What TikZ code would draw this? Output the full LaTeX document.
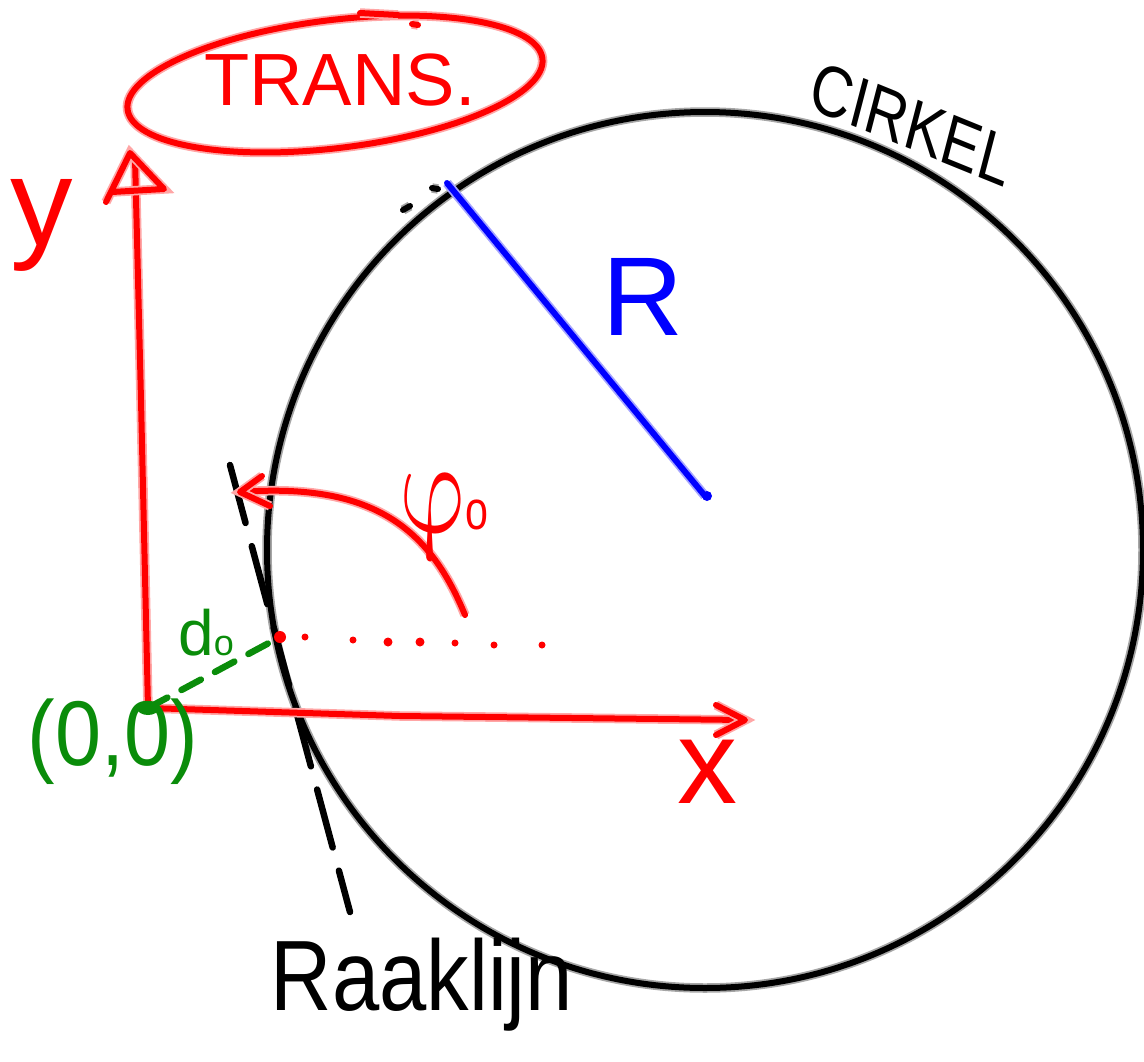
\documentclass[tikz,border=0pt]{standalone}
\usepackage{fontspec}
\usepackage{unicode-math}
\setmainfont{Liberation Sans}
\setmathfont{Latin Modern Math}
\definecolor{penred}{RGB}{255,0,0}
\definecolor{penblue}{RGB}{0,0,255}
\definecolor{pengreen}{RGB}{10,140,10}
\tikzset{
  pen/.style={draw=#1, line width=6pt, line cap=round, line join=round,
    preaction={draw=#1!35, line width=9.5pt}},
  dpen/.style={draw=#1, line width=6.5pt, line cap=round, line join=round},
  lbl/.style={inner sep=0pt, anchor=center},
}
\begin{document}
\begin{tikzpicture}[x=1pt,y=-1pt]
\useasboundingbox (0,0) rectangle (1144,1061);
% key points
\coordinate (O) at (148,708);
\coordinate (ytop) at (135,158);
\coordinate (xend) at (745,720);
\coordinate (C) at (705,550);
\coordinate (Cmark) at (705,496);
\coordinate (Rend) at (447,183);
\coordinate (P) at (280,637);
% circle
\draw[pen=black] (C) circle[radius=438];
\draw[pen=black] (403,210) -- (410,206) (432,188) -- (438,189);
% radius
\draw[pen=penblue] (Cmark) -- (Rend);
\fill[penblue] (Cmark)++(2,0) circle[radius=5];
\node[lbl,text=penblue,font=\fontsize{112}{112}\selectfont] (Rl) at (643,297) {R};
% tangent line
\coordinate (t1) at (230,465);
\coordinate (t2) at (350,912);
\draw[dpen=black,dash pattern=on 60pt off 24pt] (t1) -- (t2);
% axes
\draw[pen=penred] (O) -- (141,400) -- (ytop);
\draw[pen=penred] (106,202) -- (130,153) -- (164,189) -- (112,192);
\draw[pen=penred] (O) -- (400,716) -- (xend);
\draw[pen=penred] (716,705) -- (xend) -- (716,735);
\node[lbl,text=penred,font=\fontsize{125}{125}\selectfont] (yl) at (42,225) {y};
\node[lbl,text=penred,font=\fontsize{120}{120}\selectfont] (xl) at (707,772) {x};
% TRANS ellipse
\node[lbl,text=penred,font=\fontsize{74}{74}\selectfont] (tr) at (340,80) {TRANS.};
\draw[pen=penred,rotate around={7:(335,84)}] (335,84) ellipse[x radius=209, y radius=64];
\draw[pen=penred] (360,13) -- (398,15);
\draw[pen=penred] (412,24) -- (418,25);
% CIRKEL
\node[lbl,text=black,font=\fontsize{72}{72}\selectfont,xscale=0.8,rotate=-18] (ck) at (912,124) {CIRKEL};
% angle arrow
\draw[pen=penred] (465,615) .. controls (430,530) and (375,482) .. (240,492);
\draw[pen=penred] (262,476) -- (240,492) -- (270,506);
\node[lbl,text=penred,font=\fontsize{135}{135}\selectfont,anchor=base west,xscale=0.75] (phi) at (400,532) {$\upvarphi$\raisebox{0.02em}{\fontsize{55}{55}\selectfont o}};
% dotted line
\foreach \xx/\yy/\r in {305/637/3.5,353/640/3.5,388/642/4.5,420/642/4.5,455/643/3.5,494/645/3.5,542/645/3.5}
  \fill[penred] (\xx,\yy) circle[radius=\r];
\fill[penred] (P) circle[radius=6];
% distance d0
\draw[dpen=pengreen,dash pattern=on 22pt off 16pt] (O) -- (P);
\fill[pengreen] (O) ellipse[x radius=11, y radius=7];
\node[lbl,text=pengreen,font=\fontsize{64}{64}\selectfont,anchor=base west] (dl) at (178,655) {d\raisebox{0em}{\fontsize{36}{36}\selectfont o}};
\node[lbl,text=pengreen,font=\fontsize{92}{92}\selectfont,xscale=0.9] (ol) at (113,742) {(0,0)};
% Raaklijn
\node[lbl,text=black,font=\fontsize{100}{100}\selectfont,xscale=0.85] (rk) at (422,985) {Raaklijn};
\end{tikzpicture}
\end{document}
